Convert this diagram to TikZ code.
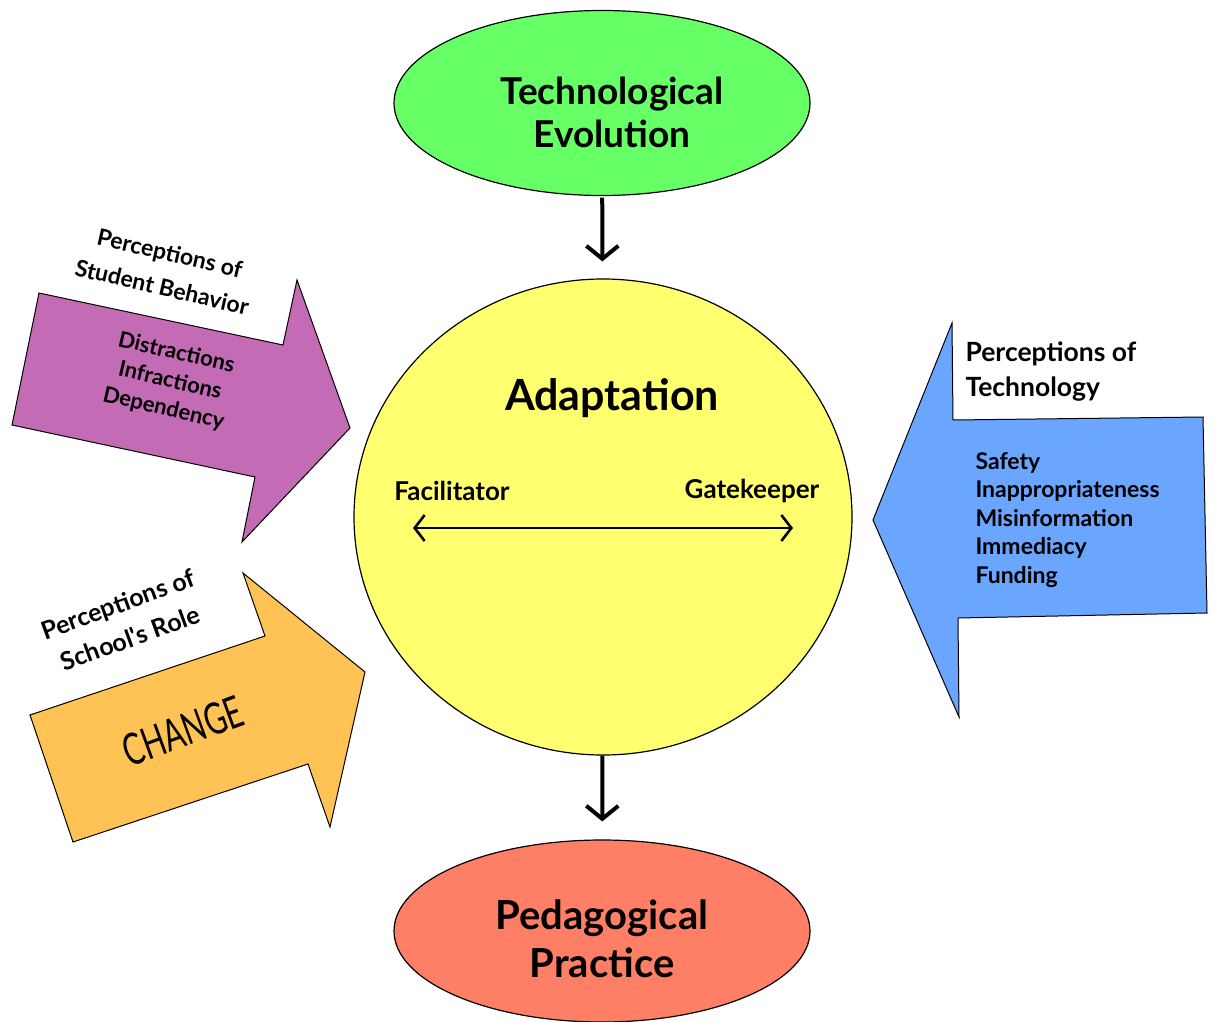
\documentclass[tikz,border=0pt]{standalone}
\usepackage{fontspec}
\usepackage{graphicx}
\setmainfont{Lato}
\usetikzlibrary{shapes.geometric,arrows.meta}

\definecolor{techgreen}{HTML}{66FF66}
\definecolor{adaptyellow}{HTML}{FFFF70}
\definecolor{practsalmon}{HTML}{FF7F66}
\definecolor{behavpurple}{HTML}{C46BB6}
\definecolor{roleorange}{HTML}{FFC255}
\definecolor{techblue}{HTML}{6AA5FF}

\begin{document}
\begin{tikzpicture}[x=1pt,y=-1pt,
	blob/.style={draw,ellipse,inner sep=0pt,line width=1.2pt},
	bigarrow/.style={line width=4pt,-{Straight Barb[length=13pt,width=32pt]}},
	spanarrow/.style={line width=2.6pt,{Straight Barb[length=10pt,width=26pt]}-{Straight Barb[length=10pt,width=26pt]}},
	block/.style={draw,line width=1pt,line join=miter},
	tag/.style={align=center,font=\bfseries\fontsize{23}{35}\selectfont}]
	\useasboundingbox (0,0) rectangle (1213,1022);
	
	%ELLIPSES
	\node[blob,fill=techgreen,minimum width=416pt,minimum height=185pt] (tech) at (602,103) {};
	\node[blob,fill=adaptyellow,minimum width=498pt,minimum height=476pt] (adapt) at (603,517) {};
	\node[blob,fill=practsalmon,minimum width=416pt,minimum height=182pt] (pract) at (602,931) {};
	\node[align=center,font=\bfseries\fontsize{37}{43}\selectfont] (techtext) at (612,112) {Technological\\Evolution};
	\node[align=center,font=\bfseries\fontsize{40}{48}\selectfont] (practtext) at (602,939) {Pedagogical\\Practice};
	
	%ARROWS
	\draw[bigarrow,shorten <=1.5pt,shorten >=17pt] (tech) -- (adapt);
	\draw[bigarrow,shorten >=18pt] (adapt) -- (pract);
	
	%INSIDE ADAPTATION
	\node[font=\bfseries\fontsize{43}{45}\selectfont] (adapttitle) at (612,398) {Adaptation};
	\node[font=\bfseries\fontsize{26}{28}\selectfont] (facil) at (452,491) {Facilitator};
	\node[font=\bfseries\fontsize{26}{28}\selectfont] (gate) at (752,491) {Gatekeeper};
	\coordinate (facilend) at (413,528);
	\coordinate (gateend) at (793,528);
	\draw[spanarrow] (facilend) -- (gateend);
	
	%BLOCK ARROWS
	\draw[block,fill=behavpurple] (39,293)--(283,345)--(297,280)--(350,428)--(242,542)--(255,477)--(12,425)--cycle;
	\draw[block,fill=roleorange] (30,715)--(265,636)--(243,573)--(365,672)--(330,827)--(308,764)--(73,842)--cycle;
	\draw[block,fill=techblue] (873,520)--(952,323)--(953,420)--(1203,417)--(1207,613)--(958,618)--(959,717)--cycle;
	
	%LABELS
	\node[tag,rotate=-13] (behavtitle) at (166,270) {Perceptions of\\Student Behavior};
	\node[tag,rotate=-13,font=\bfseries\fontsize{22}{28.5}\selectfont] (behavlist) at (170,381) {Distractions\\Infractions\\Dependency};
	\node[tag,rotate=20,font=\bfseries\fontsize{25}{36}\selectfont] (roletitle) at (124,621) {Perceptions of\\School\textquotesingle s Role};
	\node[rotate=20,font=\fontsize{44}{46}\selectfont] (change) at (183,731) {\scalebox{0.68}[1]{CHANGE}};
	\node[tag,anchor=west,align=left,font=\bfseries\fontsize{26.5}{35}\selectfont] (techtitle) at (962,372) {Perceptions of\\Technology};
	\node[anchor=west,align=left,font=\bfseries\fontsize{23}{28.5}\selectfont] (techlist) at (972,520) {Safety\\Inappropriateness\\Misinformation\\Immediacy\\Funding};
\end{tikzpicture}
\end{document}
